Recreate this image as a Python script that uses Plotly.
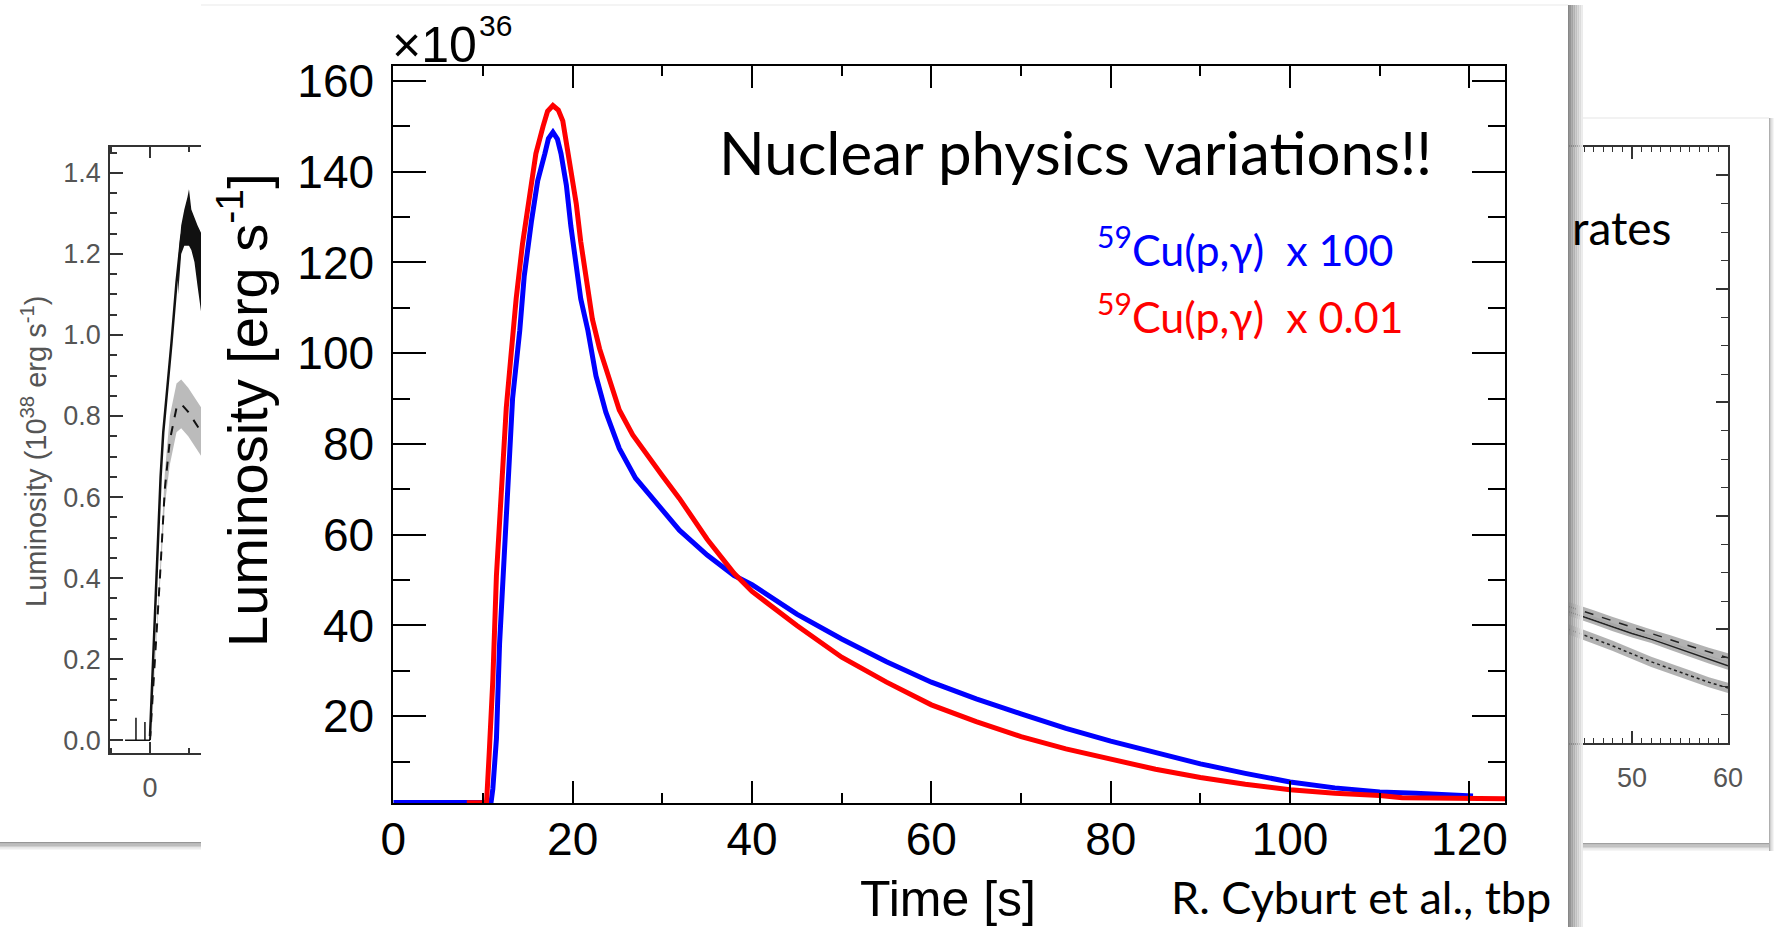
import plotly.graph_objects as go

W, H = 1774, 927
SANS = "Liberation Sans, Arial, sans-serif"
SLIDE = "Lato, Carlito, Calibri, sans-serif"

# ---------------- main panel: burst light curves ----------------
time_blue = [0, 10.9, 11.1, 11.5, 11.85, 12.2, 12.8, 13.3, 14.1, 14.6, 15.4, 16.1, 16.9,
             17.3, 17.8, 18.3, 18.7, 19.3, 19.8, 20.4, 20.9, 21.7, 22.6, 23.7, 25.2, 27.0,
             29.3, 31.9, 35, 38, 40, 45, 50, 55, 60, 65, 70, 75, 80, 85, 90, 95, 100,
             105, 110, 114, 120.4]
lum_blue = [1.0, 1.0, 4, 15, 36, 48, 72, 90, 105, 117, 129, 138, 144,
            147.3, 148.7, 147.2, 144, 137, 128, 119, 112, 105, 95, 87, 79, 72.5,
            67, 61, 55.5, 51, 49, 42.5, 37, 32, 27.5, 23.8, 20.5, 17.3, 14.5, 12, 9.5,
            7.4, 5.5, 4.2, 3.3, 3.0, 2.4]

time_red = [8.2, 10.4, 10.7, 11.1, 11.5, 12.0, 12.6, 13.1, 13.7, 14.4, 15.2, 15.9, 16.7,
            17.2, 17.8, 18.4, 18.9, 19.6, 20.4, 20.9, 21.5, 22.2, 23.0, 24.1, 25.2, 26.7,
            28.1, 30.0, 31.9, 35, 38, 40, 45, 50, 55, 60, 65, 70, 75, 80, 85, 90, 95,
            100, 105, 110, 112.5, 124]
lum_red = [0.9, 1.0, 12, 28, 51, 70, 88, 99, 112, 124, 135, 144, 150,
           153.3, 154.6, 153.6, 151.2, 143, 133, 124.6, 116, 107.5, 101, 94, 87.5, 82,
           78, 73, 68, 59, 51.5, 47.5, 40, 33, 27.5, 22.5, 18.8, 15.5, 12.8, 10.5, 8.3,
           6.5, 5.0, 3.8, 3.0, 2.5, 2.0, 1.8]

# ---------------- left panel (partly hidden) ----------------
left_base_t = [-3.2, -1.8, -1.8, -1.8, -0.65, -0.65, -0.65, 0.0]
left_base_L = [0, 0, 0.055, 0, 0, 0.045, 0, 0]
left_solid_t = [0, 0.2, 0.64, 1.06, 1.36, 1.7, 2.1, 2.75, 3.4, 4.0, 4.5, 4.9, 5.3, 5.7, 6.0, 6.6]
left_solid_L = [0.01, 0.105, 0.30, 0.50, 0.65, 0.76, 0.84, 0.98, 1.13, 1.24, 1.28, 1.30, 1.27,
                1.25, 1.20, 1.15]
left_noise_t = [3.6, 4.0, 4.4, 4.8, 5.0, 5.3, 5.7, 6.1, 6.6]
left_noise_hi = [1.18, 1.27, 1.31, 1.34, 1.36, 1.31, 1.29, 1.27, 1.25]
left_noise_lo = [1.10, 1.20, 1.22, 1.22, 1.22, 1.21, 1.18, 1.12, 1.05]
left_dash_t = [0, 0.64, 1.27, 1.9, 2.54, 3.4, 4.0, 4.9, 6.6]
left_dash_L = [0, 0.19, 0.40, 0.62, 0.74, 0.82, 0.83, 0.81, 0.76]
left_dash_hi = [0, 0.20, 0.42, 0.66, 0.80, 0.88, 0.89, 0.87, 0.82]
left_dash_lo = [0, 0.18, 0.38, 0.58, 0.68, 0.76, 0.77, 0.75, 0.70]
left_yticks = [0.0, 0.2, 0.4, 0.6, 0.8, 1.0, 1.2, 1.4]

# ---------------- right panel (partly hidden) ----------------
right_t = [43.3, 46, 48, 50, 52, 54, 56, 58, 60]
right_dash = [0.241, 0.226, 0.214, 0.203, 0.192, 0.182, 0.171, 0.160, 0.150]
right_solid = [0.232, 0.216, 0.204, 0.193, 0.183, 0.171, 0.159, 0.147, 0.136]
right_dot = [0.201, 0.184, 0.171, 0.157, 0.143, 0.131, 0.119, 0.107, 0.097]


def px(x):
    return x / W


def py(y):
    return 1 - y / H


def band(t, lo, hi):
    return list(t) + list(t)[::-1], list(hi) + list(lo)[::-1]


fig = go.Figure()

# left panel traces
bx, by = band(left_dash_t, left_dash_lo, left_dash_hi)
fig.add_trace(go.Scatter(x=bx, y=by, xaxis="x2", yaxis="y2", fill="toself", mode="none",
                         fillcolor="rgba(170,170,170,0.8)", hoverinfo="skip"))
fig.add_trace(go.Scatter(x=left_dash_t, y=left_dash_L, xaxis="x2", yaxis="y2", mode="lines",
                         line=dict(color="#111", width=2, dash="dash")))
fig.add_trace(go.Scatter(x=left_base_t, y=left_base_L, xaxis="x2", yaxis="y2", mode="lines",
                         line=dict(color="#111", width=1.5)))
fig.add_trace(go.Scatter(x=left_solid_t, y=left_solid_L, xaxis="x2", yaxis="y2", mode="lines",
                         line=dict(color="#111", width=2.5)))
bx, by = band(left_noise_t, left_noise_lo, left_noise_hi)
fig.add_trace(go.Scatter(x=bx, y=by, xaxis="x2", yaxis="y2", fill="toself", mode="none",
                         fillcolor="#111", hoverinfo="skip"))

# right panel traces
for vals, half, dash in [(right_dot, 0.009, "dot"), (right_solid, 0.007, "solid"),
                         (right_dash, 0.008, "dash")]:
    lo = [v - half for v in vals]
    hi = [v + half for v in vals]
    bx, by = band(right_t, lo, hi)
    fig.add_trace(go.Scatter(x=bx, y=by, xaxis="x3", yaxis="y3", fill="toself", mode="none",
                             fillcolor="rgba(165,165,165,0.85)", hoverinfo="skip"))
    fig.add_trace(go.Scatter(x=right_t, y=vals, xaxis="x3", yaxis="y3", mode="lines",
                             line=dict(color="#222", width=1.5, dash=dash)))

# main panel traces
fig.add_trace(go.Scatter(x=time_blue, y=lum_blue, mode="lines",
                         line=dict(color="#0000ff", width=5)))
fig.add_trace(go.Scatter(x=time_red, y=lum_red, mode="lines",
                         line=dict(color="#ff0000", width=5)))

main_axis = dict(showline=True, linecolor="black", linewidth=2, mirror="allticks",
                 ticks="inside", tickwidth=2, tickcolor="black", showgrid=False,
                 zeroline=False, automargin=False,
                 tickfont=dict(family=SANS, size=46, color="black"))

fig.update_layout(
    width=W, height=H, margin=dict(l=0, r=0, t=0, b=0, autoexpand=False),
    paper_bgcolor="white", plot_bgcolor="white", showlegend=False,
    xaxis=dict(main_axis, domain=[px(393.3), px(1505.3)], range=[0, 124], anchor="y",
               tick0=0, dtick=20, ticklen=22, ticklabelstandoff=-6,
               minor=dict(dtick=10, ticklen=10, tickwidth=2, tickcolor="black",
                          ticks="inside")),
    yaxis=dict(main_axis, domain=[py(803.3), py(66)], range=[0.8, 163.3], anchor="x",
               tick0=0, dtick=20, ticklen=33, ticklabelstandoff=8,
               minor=dict(dtick=10, ticklen=17, tickwidth=2, tickcolor="black",
                          ticks="inside")),
    xaxis2=dict(domain=[px(110), px(201)], range=[-5.13, 6.54], anchor="y2",
                showline=True, linecolor="#333", linewidth=1.5, mirror="allticks",
                ticks="inside", ticklen=11, tickwidth=1.5, tickcolor="#333",
                tick0=0, dtick=10, showgrid=False, zeroline=False, automargin=False,
                minor=dict(dtick=5, ticklen=5, tickwidth=1.5, tickcolor="#333", ticks="inside"),
                tickfont=dict(family=SANS, size=27, color="#555"), ticklabelstandoff=10),
    yaxis2=dict(domain=[py(752.7), py(147)], range=[-0.031, 1.464], anchor="x2",
                showline=True, linecolor="#333", linewidth=1.5, mirror=False,
                ticks="inside", ticklen=13, tickwidth=1.5, tickcolor="#333",
                tickvals=left_yticks, ticktext=[f"{v:.1f}" for v in left_yticks],
                showgrid=False, zeroline=False, automargin=False,
                minor=dict(dtick=0.05, ticklen=7, tickwidth=1.5, tickcolor="#333", ticks="inside"),
                tickfont=dict(family=SANS, size=27, color="#555"), ticklabelstandoff=2),
    xaxis3=dict(domain=[px(1568), px(1728)], range=[43.33, 60], anchor="y3",
                showline=True, linecolor="#333", linewidth=1.5, mirror="allticks",
                ticks="inside", ticklen=12, tickwidth=1.5, tickcolor="#333",
                tick0=0, dtick=10, showgrid=False, zeroline=False, automargin=False,
                minor=dict(dtick=1, ticklen=5, tickwidth=1.2, tickcolor="#333", ticks="inside"),
                tickfont=dict(family=SANS, size=27, color="#555"), ticklabelstandoff=10),
    yaxis3=dict(domain=[py(743), py(147)], range=[0, 1.05], anchor="x3", side="right",
                showline=True, linecolor="#333", linewidth=1.5, automargin=False,
                ticks="inside", ticklen=12, tickwidth=1.5, tickcolor="#333",
                tick0=0, dtick=0.2, showticklabels=False, showgrid=False, zeroline=False,
                minor=dict(dtick=0.05, ticklen=7, tickwidth=1.2, tickcolor="#333", ticks="inside")),
)

shapes = []


def gradient(x0, x1, y0, y1, steps, c0, c1, vertical):
    for i in range(steps):
        f = i / max(steps - 1, 1)
        c = int(c0 + (c1 - c0) * f)
        if vertical:
            a = x0 + (x1 - x0) * i / steps
            b = x0 + (x1 - x0) * (i + 1) / steps
            shapes.append(dict(type="rect", xref="paper", yref="paper", layer="above",
                               x0=px(a), x1=px(b), y0=py(y1), y1=py(y0),
                               fillcolor=f"rgb({c},{c},{c})", line=dict(width=0)))
        else:
            a = y0 + (y1 - y0) * i / steps
            b = y0 + (y1 - y0) * (i + 1) / steps
            shapes.append(dict(type="rect", xref="paper", yref="paper", layer="above",
                               x0=px(x0), x1=px(x1), y0=py(b), y1=py(a),
                               fillcolor=f"rgb({c},{c},{c})", line=dict(width=0)))


# card edges and drop shadows
gradient(0, 201, 842, 850, 6, 150, 245, vertical=False)
gradient(1582, 1769, 843, 851, 6, 160, 245, vertical=False)
gradient(1769, 1774, 118, 851, 4, 175, 245, vertical=True)
gradient(1568, 1583, 5, 927, 8, 135, 235, vertical=True)
shapes.append(dict(type="line", xref="paper", yref="paper", layer="above",
                   x0=px(201), x1=px(1568), y0=py(5), y1=py(5),
                   line=dict(color="#f0f0f0", width=1.5)))
shapes.append(dict(type="line", xref="paper", yref="paper", layer="above",
                   x0=px(1583), x1=px(1769), y0=py(118), y1=py(118),
                   line=dict(color="#eeeeee", width=1.5)))
fig.update_layout(shapes=shapes)


def note(text, x, y, size, color="black", family=SANS, xanchor="left", angle=0):
    fig.add_annotation(text=text, x=px(x), y=py(y), xref="paper", yref="paper",
                       showarrow=False, xanchor=xanchor, yanchor="middle",
                       textangle=angle, font=dict(family=family, size=size, color=color))


note("×10", 390, 45, 50)
note("36", 477, 25, 30)
note("Luminosity [erg s<sup>-1</sup>]", 244, 410, 56, xanchor="center", angle=-90)
note("Time [s]", 948, 899, 50, xanchor="center")
note("Nuclear physics variations!!", 717, 152, 60, family=SLIDE)
note("<sup>59</sup>Cu(p,γ)\u00a0\u00a0x 100", 1095, 247, 43, color="#0000ff", family=SLIDE)
note("<sup>59</sup>Cu(p,γ)\u00a0\u00a0x 0.01", 1095, 313, 43, color="#ff0000", family=SLIDE)
note("R. Cyburt et al., tbp", 1169, 897, 45, family=SLIDE)
note("rates", 1570, 228, 46, family=SLIDE)
note("Luminosity (10<sup>38</sup> erg s<sup>-1</sup>)", 34, 452, 29, color="#555",
     xanchor="center", angle=-90)

fig.write_html("out.html")
